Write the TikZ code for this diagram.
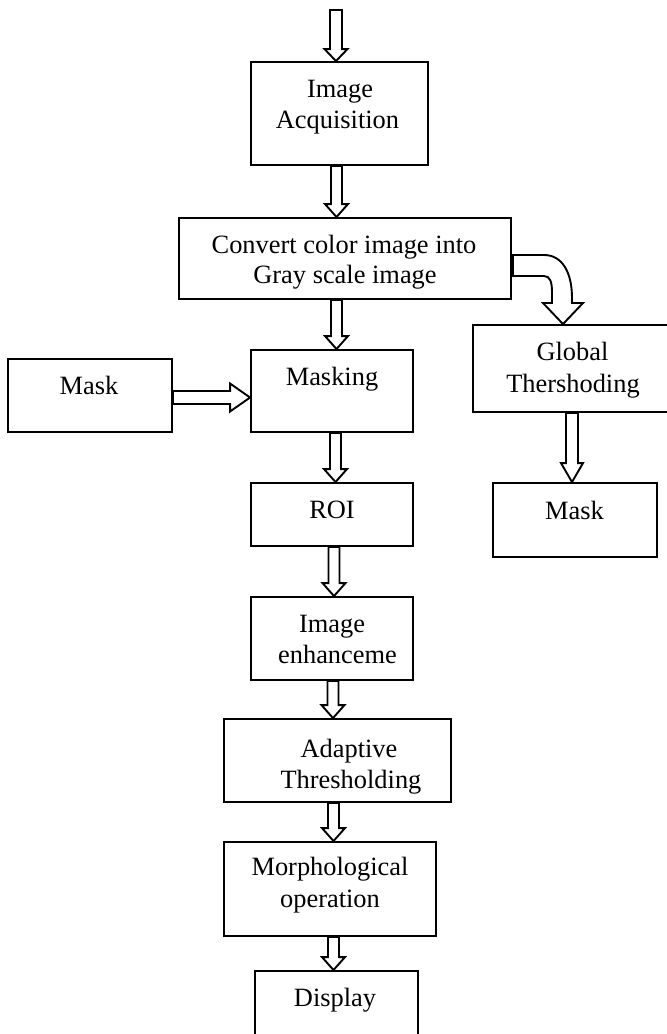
\documentclass[tikz,border=0pt]{standalone}
\usepackage{fontspec}
\setmainfont{Liberation Serif}
\usetikzlibrary{calc}
\tikzset{
  box/.style={draw, line width=1.9pt, rectangle, inner sep=0pt, fill=white},
  txt/.style={anchor=base, inner sep=0pt, font=\fontsize{26.4pt}{31pt}\selectfont},
  blk/.style={draw, line width=1.9pt, fill=white, line join=miter}
}
% vertical hollow block arrow: #1 x of centre, #2 start, #3 tip, #4 shaft half, #5 head half, #6 head length
\newcommand{\vblock}[6]{%
  \draw[blk] let \p1=(#2), \p2=(#3), \p3=(#1,0) in
    (\x3-#4pt,\y1) -- (\x3-#4pt,\y2+#6pt) -- (\x3-#5pt,\y2+#6pt) -- (\x3,\y2)
    -- (\x3+#5pt,\y2+#6pt) -- (\x3+#4pt,\y2+#6pt) -- (\x3+#4pt,\y1) -- cycle;}
\begin{document}
\begin{tikzpicture}[x=1pt,y=-1pt]
\useasboundingbox (0,0) rectangle (667,1034);
% boxes
\node[box, minimum width=177pt, minimum height=103pt] (ia) at (339.5,113.5) {};
\node[box, minimum width=332pt, minimum height=81pt] (cv) at (345,258.5) {};
\node[box, minimum width=162pt, minimum height=82pt] (mk) at (332,391) {};
\node[box, minimum width=164pt, minimum height=73pt] (maskL) at (90,395.5) {};
\node[box, minimum width=162pt, minimum height=63pt] (roi) at (332,514.5) {};
\node[box, minimum width=162pt, minimum height=83pt] (ie) at (332,638.5) {};
\node[box, minimum width=227pt, minimum height=83pt] (at) at (337.5,760.5) {};
\node[box, minimum width=212pt, minimum height=94pt] (mo) at (330,889) {};
\node[box, minimum width=163pt, minimum height=78pt] (di) at (336.5,1010) {};
\node[box, minimum width=207pt, minimum height=87pt] (gl) at (576.5,368.5) {};
\node[box, minimum width=164pt, minimum height=74pt] (maskR) at (575,520) {};
% texts
\node[txt] (t1) at (340,97) {Image};
\node[txt] (t2) at (337.5,128) {Acquisition};
\node[txt] (t3) at (344,253) {Convert color image into};
\node[txt] (t4) at (345,283) {Gray scale image};
\node[txt] (t5) at (332,385) {Masking};
\node[txt] (t6) at (89,394) {Mask};
\node[txt] (t7) at (332,518) {ROI};
\node[txt] (t8) at (332,632) {Image};
\node[txt] (t9) at (337.5,663) {enhanceme};
\node[txt] (t10) at (349,757) {Adaptive};
\node[txt] (t11) at (351,788) {Thresholding};
\node[txt] (t12) at (330,875) {Morphological};
\node[txt] (t13) at (330,907) {operation};
\node[txt] (t14) at (335,1006) {Display};
\node[txt] (t15) at (572.5,360) {Global};
\node[txt] (t16) at (573,392) {Thershoding};
\node[txt] (t17) at (574.5,519) {Mask};
% arrows
\coordinate (start) at (336,10);
\vblock{336}{start}{ia.north}{6}{11.5}{12}
\vblock{336.5}{ia.south}{cv.north}{5.5}{11.5}{13}
\vblock{336.5}{cv.south}{mk.north}{5.5}{11.5}{13}
\vblock{335.5}{mk.south}{roi.north}{5.5}{11.5}{13}
\vblock{334}{roi.south}{ie.north}{5.5}{11.5}{13}
\vblock{333}{ie.south}{at.north}{5.5}{11.5}{13}
\vblock{333.5}{at.south}{mo.north}{5.5}{11.5}{13}
\vblock{333.5}{mo.south}{di.north}{5.5}{11.5}{13}
\vblock{572}{gl.south}{maskR.north}{6}{11}{19}
% horizontal arrow Mask -> Masking
\draw[blk] let \p1=(maskL.east), \p2=(mk.west), \p3=(0,397.5) in
  (\x1,\y3+6.5pt) -- (\x2-20pt,\y3+6.5pt) -- (\x2-20pt,\y3+14pt) -- (\x2,\y3)
  -- (\x2-20pt,\y3-14pt) -- (\x2-20pt,\y3-6.5pt) -- (\x1,\y3-6.5pt) -- cycle;
% curved arrow Convert -> Global
\draw[blk] let \p1=(cv.east), \p2=(gl.north) in
  (\x1+1pt,-255pt) -- (544pt,-255pt) .. controls (562pt,-255pt) and (572pt,-272pt) .. (572pt,-298pt)
  -- (572pt,-303pt) -- (583pt,-303pt) -- (563pt,\y2) -- (543pt,-303pt) -- (552pt,-303pt)
  -- (552pt,-292pt) .. controls (552pt,-282pt) and (550pt,-276pt) .. (544pt,-276pt)
  -- (\x1+1pt,-276pt) -- cycle;
\end{tikzpicture}
\end{document}
